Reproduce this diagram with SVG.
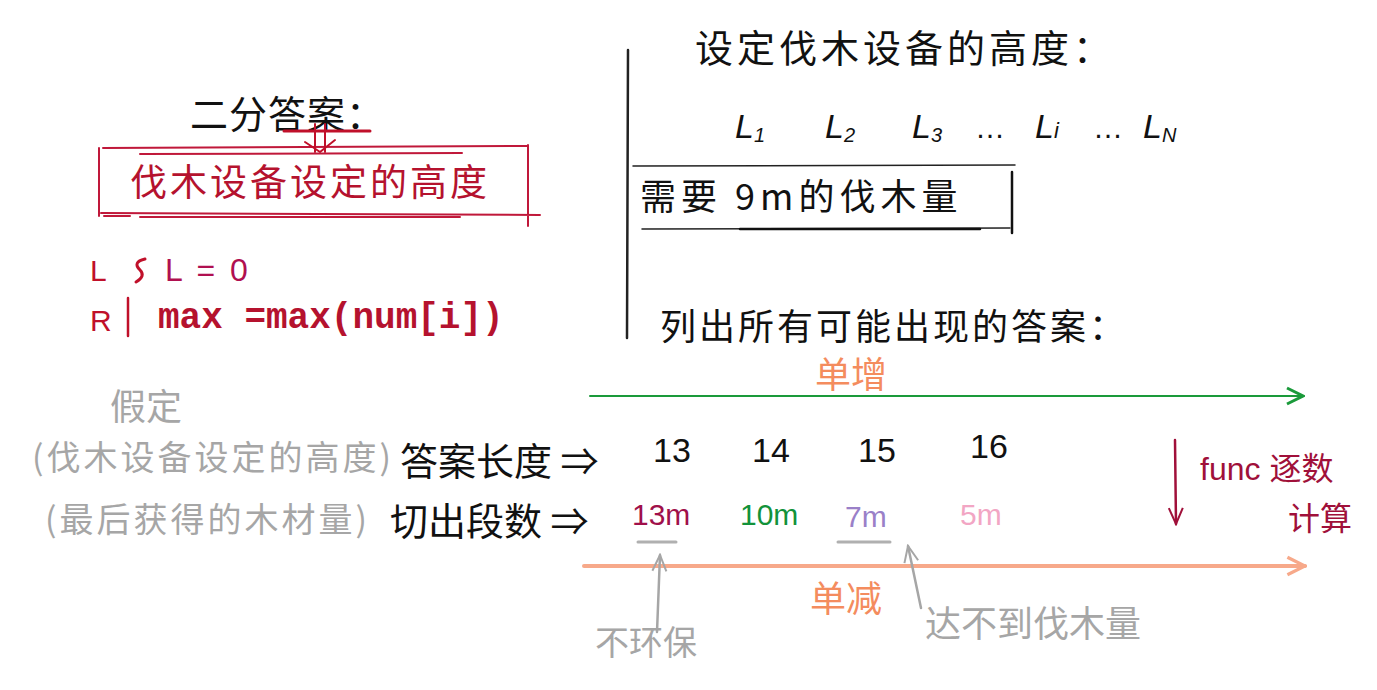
<svg xmlns="http://www.w3.org/2000/svg" width="1377" height="690" viewBox="0 0 1377 690">
<defs>
<style>
.cjk{font-family:"Noto Sans CJK SC","Noto Sans",sans-serif}
.lat{font-family:"Liberation Sans","Noto Sans",sans-serif}
.mono{font-family:"Liberation Mono",monospace}
.blk{fill:#111}
.red{fill:#b5122e}
.dred{fill:#a0103a}
.gray{fill:#a6a6a6}
.org{fill:#f48c5e}
.ln{fill:none;stroke-linecap:round;stroke-linejoin:round}
</style>
<marker id="chevG" viewBox="0 0 20 20" refX="18" refY="10" markerWidth="20" markerHeight="20" markerUnits="userSpaceOnUse" orient="auto"><path d="M2,2 L18,10 L2,18" fill="none" stroke="#1a9a3a" stroke-width="3"/></marker>
<marker id="chevO" viewBox="0 0 20 20" refX="18" refY="10" markerWidth="22" markerHeight="22" markerUnits="userSpaceOnUse" orient="auto"><path d="M2,2 L18,10 L2,18" fill="none" stroke="#f7a98a" stroke-width="3"/></marker>
<marker id="chevR" viewBox="0 0 20 20" refX="18" refY="10" markerWidth="20" markerHeight="20" markerUnits="userSpaceOnUse" orient="auto"><path d="M2,3 L18,10 L2,17" fill="none" stroke="#a0103a" stroke-width="2"/></marker>
<marker id="chevK" viewBox="0 0 20 20" refX="18" refY="10" markerWidth="20" markerHeight="20" markerUnits="userSpaceOnUse" orient="auto"><path d="M2,3 L18,10 L2,17" fill="none" stroke="#a6a6a6" stroke-width="2"/></marker>
</defs>
<rect width="1377" height="690" fill="#ffffff"/>

<g id="title">
<text class="cjk blk" x="190" y="128" font-size="38" letter-spacing="1">二分答案：</text>
</g>

<g id="box-height">
<text class="cjk red" x="130" y="196" font-size="37" letter-spacing="3">伐木设备设定的高度</text>
</g>

<g id="bounds">
<text class="lat" x="90" y="281" font-size="30" fill="#c0102a">L</text>
<text class="lat" x="90" y="331" font-size="30" fill="#c0102a">R</text>
<text class="lat" x="165" y="281" font-size="32" fill="#b01050" letter-spacing="3">L = 0</text>
<text class="mono" x="158" y="328" font-size="36" font-weight="bold" fill="#b5122e">max =max(num[i])</text>
</g>

<g id="heights">
<text class="cjk blk" x="695" y="62" font-size="38" letter-spacing="4">设定伐木设备的高度：</text>
<text class="lat blk" x="735" y="138" font-size="34" font-style="italic">L<tspan font-size="20" dy="4">1</tspan></text>
<text class="lat blk" x="825" y="138" font-size="34" font-style="italic">L<tspan font-size="20" dy="4">2</tspan></text>
<text class="lat blk" x="912" y="138" font-size="34" font-style="italic">L<tspan font-size="20" dy="4">3</tspan></text>
<text class="lat blk" x="975" y="138" font-size="30">…</text>
<text class="lat blk" x="1035" y="138" font-size="34" font-style="italic">L<tspan font-size="22" dy="0">i</tspan></text>
<text class="lat blk" x="1093" y="138" font-size="30">…</text>
<text class="lat blk" x="1143" y="138" font-size="34" font-style="italic">L<tspan font-size="20" dy="4">N</tspan></text>
</g>

<g id="need-box">
<text class="cjk blk" x="640" y="210" font-size="36" letter-spacing="5">需要 9m的伐木量</text>
</g>

<g id="list-title">
<text class="cjk blk" x="660" y="340" font-size="36" letter-spacing="3">列出所有可能出现的答案：</text>
</g>

<g id="labels-left">
<text class="cjk gray" x="110" y="420" font-size="36">假定</text>
<text class="cjk gray" x="32" y="470" font-size="34" letter-spacing="3">(伐木设备设定的高度)</text>
<text class="cjk gray" x="45" y="532" font-size="34" letter-spacing="3">(最后获得的木材量)</text>
<text class="cjk blk" x="400" y="475" font-size="38">答案长度 ⇒</text>
<text class="cjk blk" x="390" y="535" font-size="38">切出段数 ⇒</text>
</g>

<g id="values">
<text class="lat blk" x="653" y="462" font-size="34">13</text>
<text class="lat blk" x="752" y="462" font-size="34">14</text>
<text class="lat blk" x="858" y="462" font-size="34">15</text>
<text class="lat blk" x="970" y="458" font-size="34">16</text>
<text class="lat" x="632" y="525" font-size="30" fill="#a0104a">13m</text>
<text class="lat" x="740" y="525" font-size="30" fill="#12923a">10m</text>
<text class="lat" x="845" y="527" font-size="30" fill="#9a80c8">7m</text>
<text class="lat" x="960" y="525" font-size="30" fill="#f2a6c4">5m</text>
</g>

<g id="trend-labels">
<text class="cjk org" x="815" y="388" font-size="36">单增</text>
<text class="cjk org" x="810" y="612" font-size="36">单减</text>
</g>

<g id="notes">
<text class="cjk gray" x="595" y="655" font-size="34">不环保</text>
<text class="cjk gray" x="925" y="637" font-size="36">达不到伐木量</text>
<text class="lat dred" x="1200" y="480" font-size="32">func <tspan class="cjk">逐数</tspan></text>
<text class="cjk dred" x="1288" y="530" font-size="32">计算</text>
</g>

<g id="connectors">
<path class="ln" stroke="#c0183a" stroke-width="2" d="M103,148 L528,146 M140,154 L462,153 M101,213 L540,215 M140,217 L460,217 M99,148 L99,216 M528,145 L528,226 M104,216 L130,216"/>
<path class="ln" stroke="#c0102a" stroke-width="3" d="M284,131 L370,131"/>
<path class="ln" stroke="#c0102a" stroke-width="2" d="M315,124 L315,152 M325,124 L325,152 M305,142 L320,152 L335,140"/>
<path class="ln" stroke="#c0102a" stroke-width="3" d="M145,259 Q132,262 140,270 Q146,276 136,282"/>
<path class="ln" stroke="#c0102a" stroke-width="2.5" d="M128,298 L128,336"/>
<path class="ln" stroke="#222" stroke-width="2.5" d="M628,50 L627,338"/>
<path class="ln" stroke="#222" stroke-width="1.5" d="M633,166 L1015,165 M642,229 L1010,228"/>
<path class="ln" stroke="#111" stroke-width="2.5" d="M1012,172 L1012,233 M740,229 L980,229"/>
<path class="ln" stroke="#1a9a3a" stroke-width="2" d="M590,396 L1303,396" marker-end="url(#chevG)"/>
<path class="ln" stroke="#f7a98a" stroke-width="4" d="M584,566 L1305,566" marker-end="url(#chevO)"/>
<path class="ln" stroke="#b0b0b0" stroke-width="3" d="M638,542 L676,542 M838,542 L890,542"/>
<path class="ln" stroke="#a6a6a6" stroke-width="2.5" d="M657,632 L660,555" marker-end="url(#chevK)"/>
<path class="ln" stroke="#a6a6a6" stroke-width="2.5" d="M921,608 L908,546" marker-end="url(#chevK)"/>
<path class="ln" stroke="#a0103a" stroke-width="2.5" d="M1175,440 L1176,524" marker-end="url(#chevR)"/>
</g>
</svg>
